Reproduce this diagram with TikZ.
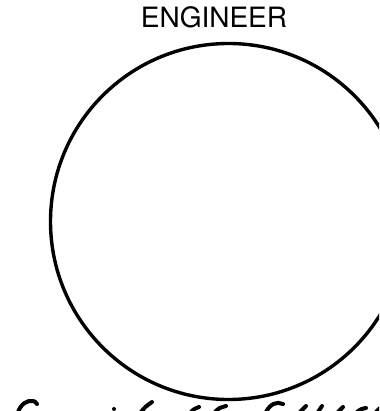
\documentclass[tikz,border=0pt]{standalone}
\usepackage{fontspec}
\setmainfont{TeX Gyre Heros}
\begin{document}
\begin{tikzpicture}[x=1pt,y=-1pt,
  ink/.style={line width=3.4pt,line cap=round,black},
  pen/.style={line width=4pt,line cap=round,black}]
\useasboundingbox (0,0) rectangle (379,411);
\clip (0,0) rectangle (379,411);
\node[font=\fontsize{28}{30}\selectfont,inner sep=0pt] (title) at (214,17) {ENGINEER};
\node[circle,draw,ink,minimum size=356pt,inner sep=0pt] (engineer) at (228.5,221.5) {};
% cut-off handwriting at the bottom edge
\draw[pen] (18,412) .. controls (21,404) and (27,400) .. (33,401) .. controls (35,401.5) .. (37,404);
\fill (114,409) circle (2);
\draw[pen] (141,412) .. controls (145,407) .. (152,402);
\draw[pen] (191,412) .. controls (194,409) .. (199,407);
\draw[pen] (215,412) .. controls (219,408) .. (226,406);
\draw[pen] (266,412) .. controls (270,404) and (277,401) .. (283,404);
\draw[pen] (300,412) -- (306,406);
\draw[pen] (318,412) -- (322,406);
\draw[pen] (338,412) -- (343,407);
\draw[pen] (357,412) .. controls (361,409) .. (366,408);
\draw[pen] (376,412) -- (380,408);
\end{tikzpicture}
\end{document}
